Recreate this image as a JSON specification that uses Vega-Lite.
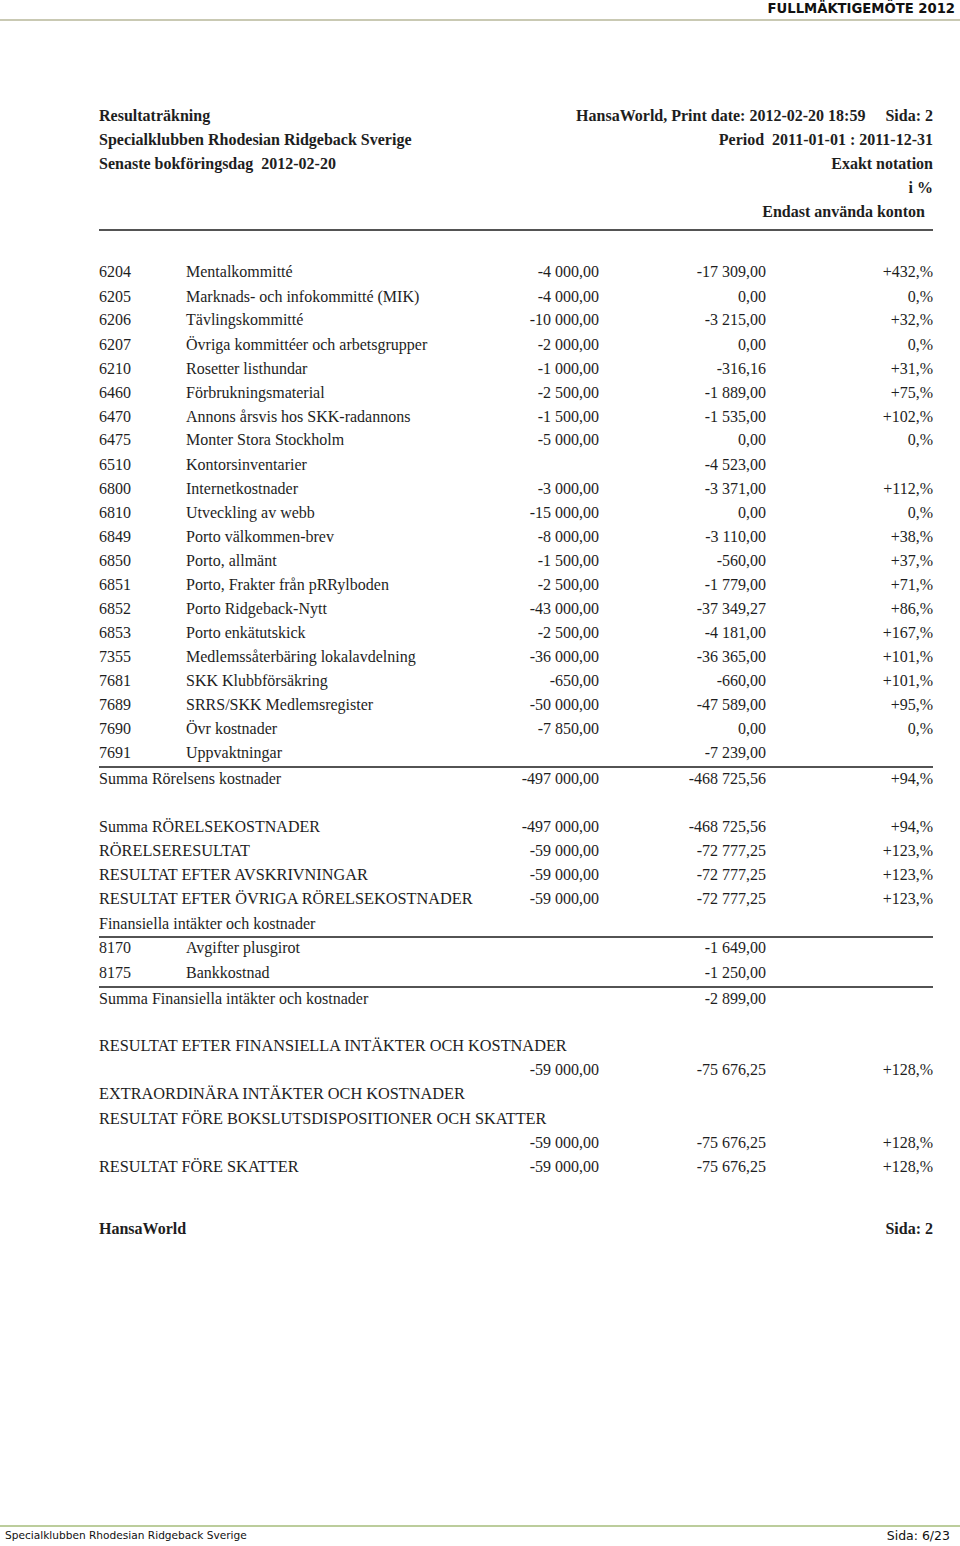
{
  "$schema": "https://vega.github.io/schema/vega-lite/v6.json",
  "width": 960,
  "height": 1546,
  "autosize": "none",
  "padding": 0,
  "background": "white",
  "config": {"view": {"stroke": null}, "axis": {"disable": true}},
  "datasets": {
    "rows": [
      {"line": 4.80, "hleft": "Resultaträkning", "hright": "HansaWorld, Print date: 2012-02-20 18:59\u00a0\u00a0\u00a0\u00a0\u00a0Sida: 2"},
      {"line": 5.80, "hleft": "Specialklubben Rhodesian Ridgeback Sverige", "hright": "Period\u00a0\u00a02011-01-01 : 2011-12-31"},
      {"line": 6.79, "hleft": "Senaste bokföringsdag\u00a0\u00a02012-02-20", "hright": "Exakt notation"},
      {"line": 7.78, "hright": "i %"},
      {"line": 8.78, "hright2": "Endast använda konton"},
      {"line": 11.26, "left": "6204", "name": "Mentalkommitté", "budget": "-4 000,00", "actual": "-17 309,00", "pct": "+432,%"},
      {"line": 12.29, "left": "6205", "name": "Marknads- och infokommitté (MIK)", "budget": "-4 000,00", "actual": "0,00", "pct": "0,%"},
      {"line": 13.25, "left": "6206", "name": "Tävlingskommitté", "budget": "-10 000,00", "actual": "-3 215,00", "pct": "+32,%"},
      {"line": 14.28, "left": "6207", "name": "Övriga kommittéer och arbetsgrupper", "budget": "-2 000,00", "actual": "0,00", "pct": "0,%"},
      {"line": 15.28, "left": "6210", "name": "Rosetter listhundar", "budget": "-1 000,00", "actual": "-316,16", "pct": "+31,%"},
      {"line": 16.27, "left": "6460", "name": "Förbrukningsmaterial", "budget": "-2 500,00", "actual": "-1 889,00", "pct": "+75,%"},
      {"line": 17.26, "left": "6470", "name": "Annons årsvis hos SKK-radannons", "budget": "-1 500,00", "actual": "-1 535,00", "pct": "+102,%"},
      {"line": 18.22, "left": "6475", "name": "Monter Stora Stockholm", "budget": "-5 000,00", "actual": "0,00", "pct": "0,%"},
      {"line": 19.25, "left": "6510", "name": "Kontorsinventarier", "actual": "-4 523,00"},
      {"line": 20.24, "left": "6800", "name": "Internetkostnader", "budget": "-3 000,00", "actual": "-3 371,00", "pct": "+112,%"},
      {"line": 21.24, "left": "6810", "name": "Utveckling av webb", "budget": "-15 000,00", "actual": "0,00", "pct": "0,%"},
      {"line": 22.23, "left": "6849", "name": "Porto välkommen-brev", "budget": "-8 000,00", "actual": "-3 110,00", "pct": "+38,%"},
      {"line": 23.22, "left": "6850", "name": "Porto, allmänt", "budget": "-1 500,00", "actual": "-560,00", "pct": "+37,%"},
      {"line": 24.22, "left": "6851", "name": "Porto, Frakter från pRRylboden", "budget": "-2 500,00", "actual": "-1 779,00", "pct": "+71,%"},
      {"line": 25.21, "left": "6852", "name": "Porto Ridgeback-Nytt", "budget": "-43 000,00", "actual": "-37 349,27", "pct": "+86,%"},
      {"line": 26.21, "left": "6853", "name": "Porto enkätutskick", "budget": "-2 500,00", "actual": "-4 181,00", "pct": "+167,%"},
      {"line": 27.20, "left": "7355", "name": "Medlemssåterbäring lokalavdelning", "budget": "-36 000,00", "actual": "-36 365,00", "pct": "+101,%"},
      {"line": 28.19, "left": "7681", "name": "SKK Klubbförsäkring", "budget": "-650,00", "actual": "-660,00", "pct": "+101,%"},
      {"line": 29.19, "left": "7689", "name": "SRRS/SKK Medlemsregister", "budget": "-50 000,00", "actual": "-47 589,00", "pct": "+95,%"},
      {"line": 30.18, "left": "7690", "name": "Övr kostnader", "budget": "-7 850,00", "actual": "0,00", "pct": "0,%"},
      {"line": 31.17, "left": "7691", "name": "Uppvaktningar", "actual": "-7 239,00"},
      {"line": 32.25, "left": "Summa Rörelsens kostnader", "budget": "-497 000,00", "actual": "-468 725,56", "pct": "+94,%"},
      {"line": 34.24, "left": "Summa RÖRELSEKOSTNADER", "budget": "-497 000,00", "actual": "-468 725,56", "pct": "+94,%"},
      {"line": 35.23, "caps": "RÖRELSERESULTAT", "budget": "-59 000,00", "actual": "-72 777,25", "pct": "+123,%"},
      {"line": 36.22, "caps": "RESULTAT EFTER AVSKRIVNINGAR", "budget": "-59 000,00", "actual": "-72 777,25", "pct": "+123,%"},
      {"line": 37.22, "caps": "RESULTAT EFTER ÖVRIGA RÖRELSEKOSTNADER", "budget": "-59 000,00", "actual": "-72 777,25", "pct": "+123,%"},
      {"line": 38.25, "left": "Finansiella intäkter och kostnader"},
      {"line": 39.25, "left": "8170", "name": "Avgifter plusgirot", "actual": "-1 649,00"},
      {"line": 40.28, "left": "8175", "name": "Bankkostnad", "actual": "-1 250,00"},
      {"line": 41.36, "left": "Summa Finansiella intäkter och kostnader", "actual": "-2 899,00"},
      {"line": 43.30, "caps": "RESULTAT EFTER FINANSIELLA INTÄKTER OCH KOSTNADER"},
      {"line": 44.30, "budget": "-59 000,00", "actual": "-75 676,25", "pct": "+128,%"},
      {"line": 45.29, "caps": "EXTRAORDINÄRA INTÄKTER OCH KOSTNADER"},
      {"line": 46.32, "caps": "RESULTAT FÖRE BOKSLUTSDISPOSITIONER OCH SKATTER"},
      {"line": 47.32, "budget": "-59 000,00", "actual": "-75 676,25", "pct": "+128,%"},
      {"line": 48.31, "caps": "RESULTAT FÖRE SKATTER", "budget": "-59 000,00", "actual": "-75 676,25", "pct": "+128,%"},
      {"line": 50.88, "hleft": "HansaWorld", "hright": "Sida: 2"}
    ],
    "rules": [
      {"line": 9.52, "kind": "table"},
      {"line": 31.75, "kind": "table"},
      {"line": 38.79, "kind": "table"},
      {"line": 40.86, "kind": "table"},
      {"line": 0.83, "kind": "pagetop"},
      {"line": 63.17, "kind": "pagebottom"}
    ],
    "page": [
      {"line": 0.37, "title": "FULLMÄKTIGEMÖTE 2012"},
      {"line": 63.59, "footl": "Specialklubben Rhodesian Ridgeback Sverige", "footr": "Sida: 6/23"}
    ]
  },
  "layer": [
    {
      "data": {"name": "rules"},
      "transform": [{"filter": "datum.kind === 'pagetop'"}],
      "mark": {"type": "rule", "color": "#c9c9b3", "strokeWidth": 2},
      "encoding": {
        "x": {"datum": 0, "type": "quantitative", "scale": {"domain": [0, 1, 2, 3, 4, 5, 6, 7, 8, 9, 10], "range": [0, 5, 99, 186, 599, 766, 933, 955, 960, 925, 950], "nice": false, "zero": false}},
        "x2": {"datum": 8},
        "y": {"field": "line", "type": "quantitative", "scale": {"domain": [0, 64], "reverse": true, "nice": false, "zero": false}}
      }
    },
    {
      "data": {"name": "rules"},
      "transform": [{"filter": "datum.kind === 'pagebottom'"}],
      "mark": {"type": "rule", "color": "#bccd9c", "strokeWidth": 2},
      "encoding": {
        "x": {"datum": 0, "type": "quantitative"},
        "x2": {"datum": 8},
        "y": {"field": "line", "type": "quantitative"}
      }
    },
    {
      "data": {"name": "rules"},
      "transform": [{"filter": "datum.kind === 'table'"}],
      "mark": {"type": "rule", "color": "#1a1a1a", "strokeWidth": 1.6},
      "encoding": {
        "x": {"datum": 2, "type": "quantitative"},
        "x2": {"datum": 6},
        "y": {"field": "line", "type": "quantitative"}
      }
    },
    {
      "data": {"name": "rows"},
      "transform": [{"filter": "isValid(datum.left)"}],
      "mark": {"type": "text", "align": "left", "baseline": "middle", "font": "Liberation Serif", "fontSize": 16, "color": "#1e1e1e"},
      "encoding": {
        "x": {"datum": 2, "type": "quantitative"},
        "y": {"field": "line", "type": "quantitative"},
        "text": {"field": "left"}
      }
    },
    {
      "data": {"name": "rows"},
      "transform": [{"filter": "isValid(datum.caps)"}],
      "mark": {"type": "text", "align": "left", "baseline": "middle", "font": "Liberation Serif", "fontSize": 16.3, "color": "#1e1e1e"},
      "encoding": {
        "x": {"datum": 2, "type": "quantitative"},
        "y": {"field": "line", "type": "quantitative"},
        "text": {"field": "caps"}
      }
    },
    {
      "data": {"name": "rows"},
      "transform": [{"filter": "isValid(datum.name)"}],
      "mark": {"type": "text", "align": "left", "baseline": "middle", "font": "Liberation Serif", "fontSize": 16, "color": "#1e1e1e"},
      "encoding": {
        "x": {"datum": 3, "type": "quantitative"},
        "y": {"field": "line", "type": "quantitative"},
        "text": {"field": "name"}
      }
    },
    {
      "data": {"name": "rows"},
      "transform": [{"filter": "isValid(datum.budget)"}],
      "mark": {"type": "text", "align": "right", "baseline": "middle", "font": "Liberation Serif", "fontSize": 16, "color": "#1e1e1e"},
      "encoding": {
        "x": {"datum": 4, "type": "quantitative"},
        "y": {"field": "line", "type": "quantitative"},
        "text": {"field": "budget"}
      }
    },
    {
      "data": {"name": "rows"},
      "transform": [{"filter": "isValid(datum.actual)"}],
      "mark": {"type": "text", "align": "right", "baseline": "middle", "font": "Liberation Serif", "fontSize": 16, "color": "#1e1e1e"},
      "encoding": {
        "x": {"datum": 5, "type": "quantitative"},
        "y": {"field": "line", "type": "quantitative"},
        "text": {"field": "actual"}
      }
    },
    {
      "data": {"name": "rows"},
      "transform": [{"filter": "isValid(datum.pct)"}],
      "mark": {"type": "text", "align": "right", "baseline": "middle", "font": "Liberation Serif", "fontSize": 16, "color": "#1e1e1e"},
      "encoding": {
        "x": {"datum": 6, "type": "quantitative"},
        "y": {"field": "line", "type": "quantitative"},
        "text": {"field": "pct"}
      }
    },
    {
      "data": {"name": "rows"},
      "transform": [{"filter": "isValid(datum.hleft)"}],
      "mark": {"type": "text", "align": "left", "baseline": "middle", "font": "Liberation Serif", "fontWeight": "bold", "fontSize": 16, "color": "#1e1e1e"},
      "encoding": {
        "x": {"datum": 2, "type": "quantitative"},
        "y": {"field": "line", "type": "quantitative"},
        "text": {"field": "hleft"}
      }
    },
    {
      "data": {"name": "rows"},
      "transform": [{"filter": "isValid(datum.hright)"}],
      "mark": {"type": "text", "align": "right", "baseline": "middle", "font": "Liberation Serif", "fontWeight": "bold", "fontSize": 16, "color": "#1e1e1e"},
      "encoding": {
        "x": {"datum": 6, "type": "quantitative"},
        "y": {"field": "line", "type": "quantitative"},
        "text": {"field": "hright"}
      }
    },
    {
      "data": {"name": "rows"},
      "transform": [{"filter": "isValid(datum.hright2)"}],
      "mark": {"type": "text", "align": "right", "baseline": "middle", "font": "Liberation Serif", "fontWeight": "bold", "fontSize": 16, "color": "#1e1e1e"},
      "encoding": {
        "x": {"datum": 9, "type": "quantitative"},
        "y": {"field": "line", "type": "quantitative"},
        "text": {"field": "hright2"}
      }
    },
    {
      "data": {"name": "page"},
      "transform": [{"filter": "isValid(datum.title)"}],
      "mark": {"type": "text", "align": "right", "baseline": "middle", "font": "DejaVu Sans", "fontWeight": "bold", "fontSize": 13.2, "color": "#111"},
      "encoding": {
        "x": {"datum": 7, "type": "quantitative"},
        "y": {"field": "line", "type": "quantitative"},
        "text": {"field": "title"}
      }
    },
    {
      "data": {"name": "page"},
      "transform": [{"filter": "isValid(datum.footl)"}],
      "mark": {"type": "text", "align": "left", "baseline": "middle", "font": "DejaVu Sans", "fontSize": 10.6, "color": "#111"},
      "encoding": {
        "x": {"datum": 1, "type": "quantitative"},
        "y": {"field": "line", "type": "quantitative"},
        "text": {"field": "footl"}
      }
    },
    {
      "data": {"name": "page"},
      "transform": [{"filter": "isValid(datum.footr)"}],
      "mark": {"type": "text", "align": "right", "baseline": "middle", "font": "DejaVu Sans", "fontSize": 12.5, "color": "#111"},
      "encoding": {
        "x": {"datum": 10, "type": "quantitative"},
        "y": {"field": "line", "type": "quantitative"},
        "text": {"field": "footr"}
      }
    }
  ]
}
